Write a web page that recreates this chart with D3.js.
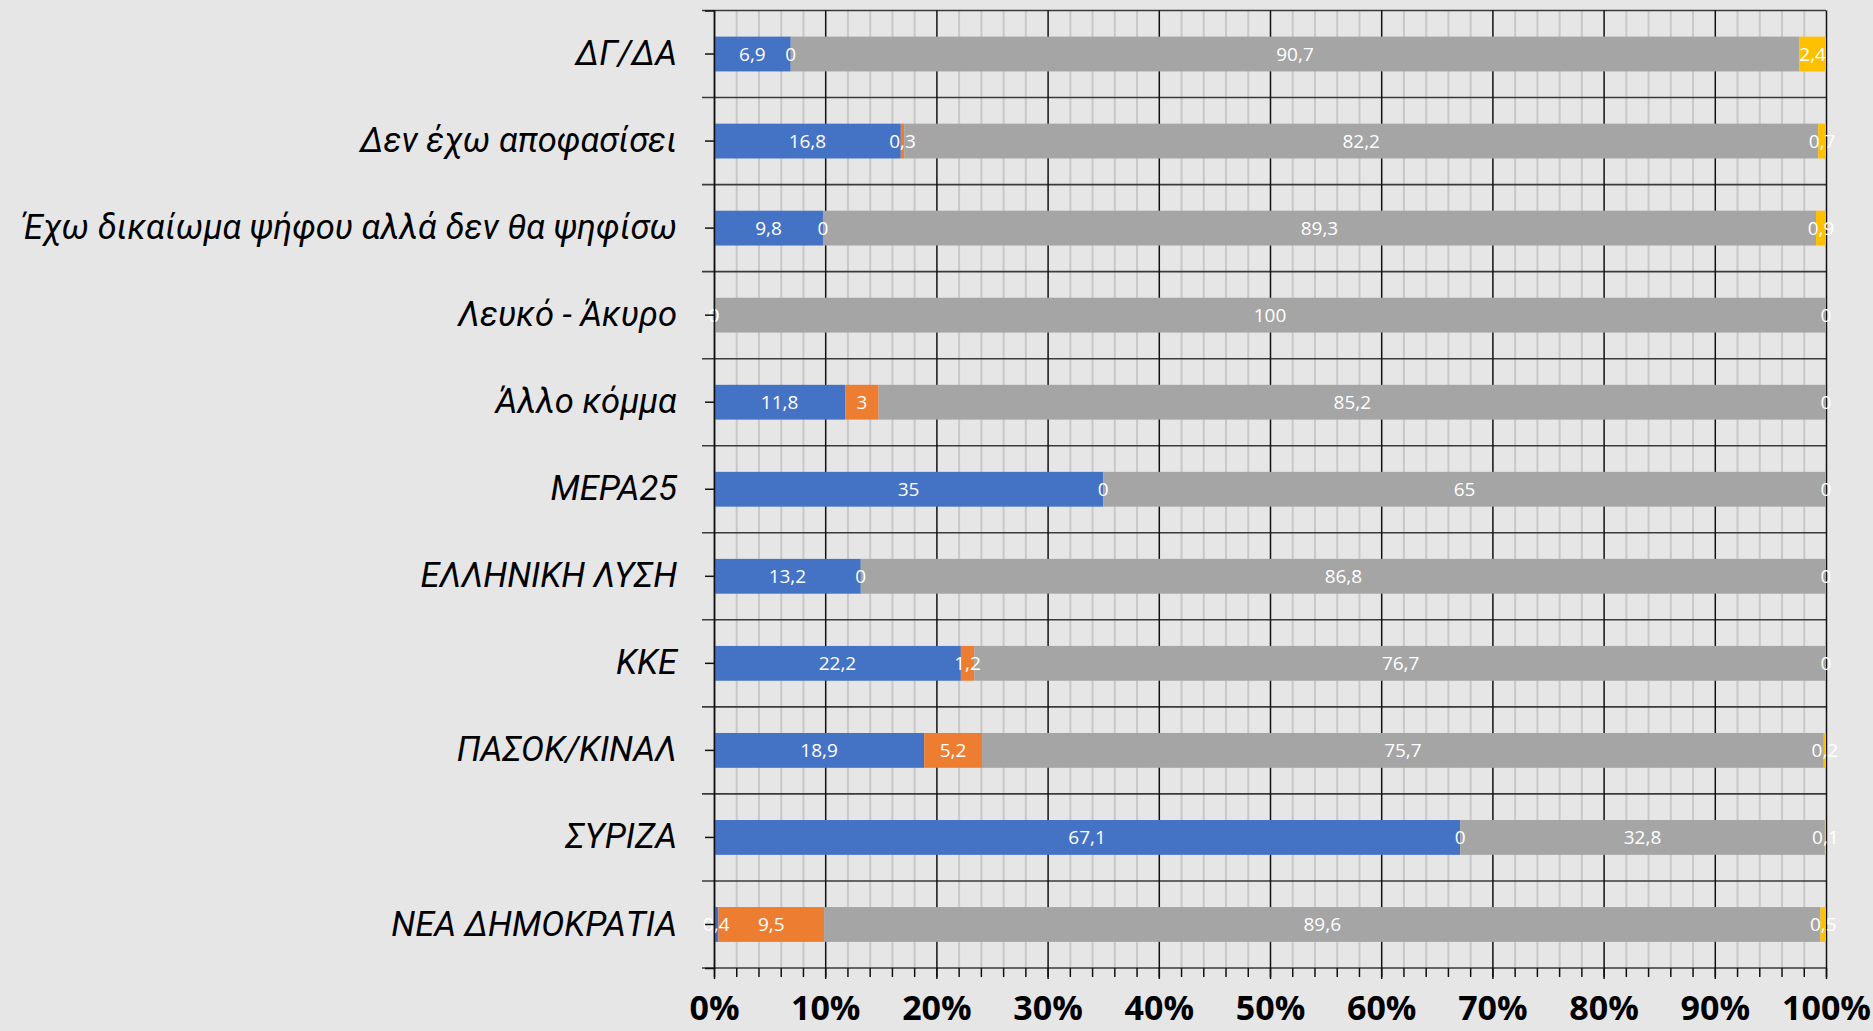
<!DOCTYPE html>
<html>
<head>
<meta charset="utf-8">
<script src="https://cdn.jsdelivr.net/npm/d3@7"></script>
<style>
  html, body { margin: 0; padding: 0; background: #E7E6E6; }
  svg { display: block; }
</style>
</head>
<body>
<svg id="chart" width="1873" height="1031"></svg>
<script>
// ---- Data ----
const categories = [
  "ΔΓ/ΔΑ",
  "Δεν έχω αποφασίσει",
  "Έχω δικαίωμα ψήφου αλλά δεν θα ψηφίσω",
  "Λευκό - Άκυρο",
  "Άλλο κόμμα",
  "ΜΕΡΑ25",
  "ΕΛΛΗΝΙΚΗ ΛΥΣΗ",
  "ΚΚΕ",
  "ΠΑΣΟΚ/ΚΙΝΑΛ",
  "ΣΥΡΙΖΑ",
  "ΝΕΑ ΔΗΜΟΚΡΑΤΙΑ"
];
const seriesBlue   = [6.9, 16.8, 9.8, 0, 11.8, 35, 13.2, 22.2, 18.9, 67.1, 0.4];
const seriesOrange = [0, 0.3, 0, 0, 3, 0, 0, 1.2, 5.2, 0, 9.5];
const seriesGray   = [90.7, 82.2, 89.3, 100, 85.2, 65, 86.8, 76.7, 75.7, 32.8, 89.6];
const seriesYellow = [2.4, 0.7, 0.9, 0, 0, 0, 0, 0, 0.2, 0.1, 0.5];
const xTickValues = [0, 10, 20, 30, 40, 50, 60, 70, 80, 90, 100];
const xMinorValues = d3.range(0, 101, 2);

const seriesList = [
  { name: "blue",   values: seriesBlue,   color: "#4472C4" },
  { name: "orange", values: seriesOrange, color: "#ED7D31" },
  { name: "gray",   values: seriesGray,   color: "#A5A5A5" },
  { name: "yellow", values: seriesYellow, color: "#FFC000" }
];

// ---- Layout ----
const plotLeft = 714, plotRight = 1826, plotTop = 10.5, plotBottom = 968;
const svg = d3.select("#chart");

const x = d3.scaleLinear().domain([0, 100]).range([plotLeft, plotRight]);
const y = d3.scaleBand().domain(categories).range([plotTop, plotBottom])
  .paddingInner(0.6).paddingOuter(0.3);
const step = y.step();
const fmt = v => String(v).replace(".", ",");

// minor vertical gridlines
svg.append("g")
  .attr("transform", `translate(0,${plotBottom})`)
  .call(d3.axisBottom(x).tickValues(xMinorValues.filter(v => v % 10 !== 0))
        .tickSize(-(plotBottom - plotTop)).tickFormat(""))
  .call(g => g.select(".domain").remove())
  .call(g => g.selectAll("line").attr("stroke", "#C8C8C8").attr("stroke-width", 2));

// horizontal category boundary lines
const boundaries = d3.range(categories.length + 1).map(i => plotTop + i * step);
svg.append("g").selectAll("line").data(boundaries).join("line")
  .attr("x1", plotLeft - 12).attr("x2", plotRight)
  .attr("y1", d => d).attr("y2", d => d)
  .attr("stroke", "#3a3a3a").attr("stroke-width", 1.6);

// major vertical gridlines
svg.append("g")
  .attr("transform", `translate(0,${plotBottom})`)
  .call(d3.axisBottom(x).tickValues(xTickValues).tickSize(-(plotBottom - plotTop)).tickFormat(""))
  .call(g => g.select(".domain").remove())
  .call(g => g.selectAll("line").attr("stroke", "#111").attr("stroke-width", 1.5));

// bars
let stackStart = categories.map(() => 0);
const segs = [];
seriesList.forEach(s => {
  s.values.forEach((v, i) => {
    segs.push({ cat: categories[i], x0: stackStart[i], v, color: s.color });
    stackStart[i] += v;
  });
});
svg.append("g").selectAll("rect").data(segs).join("rect")
  .attr("x", d => x(Math.min(d.x0, 100)))
  .attr("y", d => y(d.cat))
  .attr("width", d => Math.max(0, x(Math.min(d.x0 + d.v, 100)) - x(Math.min(d.x0, 100))))
  .attr("height", y.bandwidth())
  .attr("fill", d => d.color);

// data labels
svg.append("g").selectAll("text").data(segs).join("text")
  .attr("x", d => x(Math.min(d.x0 + d.v / 2, 100)))
  .attr("y", d => y(d.cat) + y.bandwidth() / 2)
  .attr("text-anchor", "middle")
  .attr("dominant-baseline", "central")
  .attr("fill", "#FFFFFF")
  .attr("font-family", "'Open Sans', sans-serif")
  .attr("font-size", 19)
  .text(d => fmt(d.v));

// y axis: center ticks + labels
const yAxis = svg.append("g")
  .attr("transform", `translate(${plotLeft},0)`)
  .call(d3.axisLeft(y).tickSize(9).tickPadding(28))
  .call(g => g.select(".domain").attr("stroke", "#111").attr("stroke-width", 1.5));
yAxis.selectAll(".tick line").attr("stroke", "#111").attr("stroke-width", 1.5);
yAxis.selectAll(".tick text")
  .attr("fill", "#000")
  .attr("font-family", "Roboto, sans-serif")
  .attr("font-style", "italic")
  .attr("font-weight", 400)
  .attr("font-size", 34.5);

// x axis: minor ticks
svg.append("g")
  .attr("transform", `translate(0,${plotBottom})`)
  .call(d3.axisBottom(x).tickValues(xMinorValues).tickSize(9).tickFormat(""))
  .call(g => g.select(".domain").remove())
  .call(g => g.selectAll("line").attr("stroke", "#111").attr("stroke-width", 1.5));

// x axis: major ticks + labels
const xAxis = svg.append("g")
  .attr("transform", `translate(0,${plotBottom})`)
  .call(d3.axisBottom(x).tickValues(xTickValues).tickSize(11).tickPadding(17)
        .tickFormat(d => d + "%"))
  .call(g => g.select(".domain").remove());
xAxis.selectAll(".tick line").attr("stroke", "#111").attr("stroke-width", 1.5);
xAxis.selectAll(".tick text")
  .attr("fill", "#000")
  .attr("font-family", "'Open Sans', sans-serif")
  .attr("font-weight", "bold")
  .attr("font-size", 34);
</script>
</body>
</html>
